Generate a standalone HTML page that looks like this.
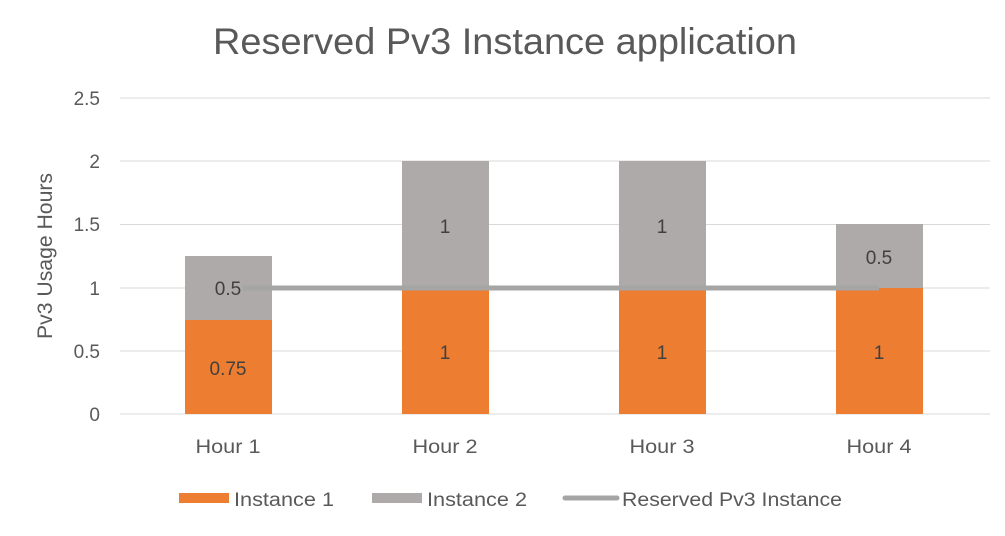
<!DOCTYPE html>
<html><head><meta charset="utf-8"><style>body{margin:0;background:#fff}</style></head><body>
<svg width="1005" height="531" xmlns="http://www.w3.org/2000/svg" font-family="'Liberation Sans', sans-serif">
<rect width="1005" height="531" fill="#fff"/>
<text x="505" y="54" font-size="37" fill="#595959" text-anchor="middle" textLength="584" lengthAdjust="spacingAndGlyphs">Reserved Pv3 Instance application</text>
<g stroke="#d9d9d9" stroke-width="1">
<line x1="120" x2="990" y1="98" y2="98"/><line x1="120" x2="990" y1="161" y2="161"/>
<line x1="120" x2="990" y1="224.5" y2="224.5"/><line x1="120" x2="990" y1="288" y2="288"/>
<line x1="120" x2="990" y1="351" y2="351"/><line x1="120" x2="990" y1="414" y2="414"/>
</g>
<g font-size="19" fill="#595959" text-anchor="end">
<text x="100" y="105">2.5</text><text x="100" y="168">2</text><text x="100" y="231">1.5</text>
<text x="100" y="295">1</text><text x="100" y="358">0.5</text><text x="100" y="421">0</text>
</g>
<text transform="translate(52,256) rotate(-90)" font-size="21" fill="#595959" text-anchor="middle" textLength="166" lengthAdjust="spacingAndGlyphs">Pv3 Usage Hours</text>
<g fill="#ED7D31">
<rect x="185" y="320" width="87" height="94"/><rect x="402" y="290" width="87" height="124"/>
<rect x="619" y="290" width="87" height="124"/><rect x="836" y="288" width="87" height="126"/>
</g>
<g fill="#ADAAA9">
<rect x="185" y="256" width="87" height="64"/><rect x="402" y="161" width="87" height="129"/>
<rect x="619" y="161" width="87" height="129"/><rect x="836" y="224" width="87" height="64"/>
</g>
<line x1="243" x2="879" y1="288" y2="288" stroke="#A5A5A5" stroke-width="5"/>
<g font-size="19" fill="#404040" text-anchor="middle">
<text x="228" y="375">0.75</text><text x="228" y="295">0.5</text>
<text x="445" y="359">1</text><text x="445" y="233">1</text>
<text x="662" y="359">1</text><text x="662" y="233">1</text>
<text x="879" y="359">1</text><text x="879" y="264">0.5</text>
</g>
<g font-size="19" fill="#595959" text-anchor="middle">
<text x="228" y="453" textLength="65" lengthAdjust="spacingAndGlyphs">Hour 1</text><text x="445" y="453" textLength="65" lengthAdjust="spacingAndGlyphs">Hour 2</text>
<text x="662" y="453" textLength="65" lengthAdjust="spacingAndGlyphs">Hour 3</text><text x="879" y="453" textLength="65" lengthAdjust="spacingAndGlyphs">Hour 4</text>
</g>
<rect x="179" y="493" width="50" height="10" fill="#ED7D31"/>
<text x="234" y="506" font-size="19" fill="#595959" textLength="100" lengthAdjust="spacingAndGlyphs">Instance 1</text>
<rect x="372" y="493" width="50" height="10" fill="#ADAAA9"/>
<text x="427" y="506" font-size="19" fill="#595959" textLength="100" lengthAdjust="spacingAndGlyphs">Instance 2</text>
<line x1="565" x2="617" y1="498" y2="498" stroke="#A5A5A5" stroke-width="5" stroke-linecap="round"/>
<text x="622" y="506" font-size="19" fill="#595959" textLength="220" lengthAdjust="spacingAndGlyphs">Reserved Pv3 Instance</text>
</svg>
</body></html>
